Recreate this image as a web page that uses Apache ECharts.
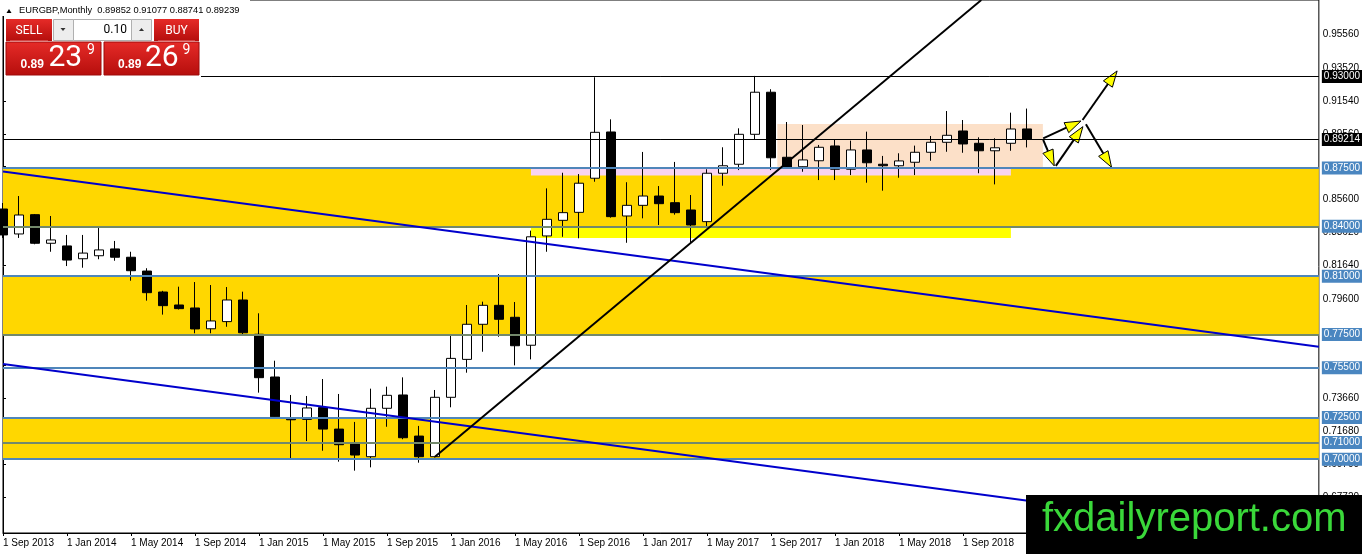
<!DOCTYPE html>
<html><head><meta charset="utf-8">
<script src="https://cdn.jsdelivr.net/npm/echarts@6/dist/echarts.min.js"></script>
<style>html,body{margin:0;padding:0;background:#fff;}#c{width:1362px;height:554px;}</style>
</head><body><div id="c"></div>
<script>
// ---- data ----
const months = ['Sep 2013','Oct 2013','Nov 2013','Dec 2013','Jan 2014','Feb 2014','Mar 2014','Apr 2014','May 2014','Jun 2014','Jul 2014','Aug 2014','Sep 2014','Oct 2014','Nov 2014','Dec 2014','Jan 2015','Feb 2015','Mar 2015','Apr 2015','May 2015','Jun 2015','Jul 2015','Aug 2015','Sep 2015','Oct 2015','Nov 2015','Dec 2015','Jan 2016','Feb 2016','Mar 2016','Apr 2016','May 2016','Jun 2016','Jul 2016','Aug 2016','Sep 2016','Oct 2016','Nov 2016','Dec 2016','Jan 2017','Feb 2017','Mar 2017','Apr 2017','May 2017','Jun 2017','Jul 2017','Aug 2017','Sep 2017','Oct 2017','Nov 2017','Dec 2017','Jan 2018','Feb 2018','Mar 2018','Apr 2018','May 2018','Jun 2018','Jul 2018','Aug 2018','Sep 2018','Oct 2018','Nov 2018','Dec 2018','Jan 2019'];
const open = [.8504,.8354,.8470,.8298,.8282,.8205,.8223,.8264,.8214,.8131,
  .8005,.7927,.7909,.7784,.7827,.7957,.7751,.7494,.7249,.7239,
  .7310,.7181,.7091,.7015,.7306,.7386,.7139,.7015,.7372,.7600,
  .7811,.7925,.7853,.7685,.8342,.8436,.8484,.8689,.8967,.8462,
  .8526,.8582,.8542,.8498,.8428,.8719,.8773,.8953,.9206,.8815,
  .8758,.8794,.8883,.8743,.8859,.8773,.8764,.8785,.8845,.8905,
  .8973,.8899,.8854,.8899,.89852];
const high = [.8540,.8582,.8474,.8462,.8348,.8348,.8398,.8312,.8247,.8148,
  .8012,.8037,.8065,.8047,.8035,.8007,.7877,.7592,.7386,.7380,
  .7482,.7392,.7224,.7424,.7436,.7492,.7200,.7416,.7747,.7927,
  .7947,.8113,.7945,.8374,.8628,.8722,.8714,.9296,.9043,.8665,
  .8847,.8642,.8787,.8588,.8743,.8875,.8989,.9304,.9224,.9027,
  .9009,.8889,.8923,.8915,.8969,.8823,.8839,.8885,.8943,.9093,
  .9039,.8935,.8929,.9083,.91077];
const low = [.8330,.8330,.8292,.8247,.8161,.8151,.8202,.8193,.8073,.7953,
  .7869,.7900,.7757,.7757,.7796,.7752,.7400,.7243,.7005,.7109,
  .7051,.6985,.6931,.6951,.7195,.7120,.6979,.7010,.7312,.7520,
  .7646,.7736,.7564,.7600,.8247,.8337,.8328,.8668,.8452,.8301,
  .8448,.8408,.8470,.8301,.8398,.8644,.8738,.8919,.8738,.8750,
  .8728,.8678,.8678,.8708,.8662,.8614,.8692,.8708,.8794,.8848,
  .8842,.8719,.8652,.8854,.88741];
const close = [.8348,.8468,.8298,.8318,.8197,.8239,.8258,.8214,.8133,.8001,
  .7923,.7905,.7783,.7831,.7957,.7760,.7490,.7255,.7237,.7308,
  .7181,.7087,.7025,.7306,.7384,.7129,.7015,.7372,.7606,.7811,
  .7925,.7841,.7682,.8337,.8442,.8482,.8659,.8965,.8458,.8526,
  .8582,.8536,.8482,.8408,.8719,.8764,.8953,.9206,.8812,.8755,
  .8799,.8875,.8743,.8859,.8782,.8764,.8793,.8845,.8905,.8947,
  .8895,.8854,.8872,.8985,.89239];
const xTickLabels = ['1 Sep 2013','1 Jan 2014','1 May 2014','1 Sep 2014','1 Jan 2015','1 May 2015','1 Sep 2015','1 Jan 2016','1 May 2016','1 Sep 2016','1 Jan 2017','1 May 2017','1 Sep 2017','1 Jan 2018','1 May 2018','1 Sep 2018','1 Jan 2019','1 May 2019','1 Sep 2019','1 Jan 2020','1 May 2020'];
const yTickValues = [0.9556,0.9352,0.9154,0.8956,0.8758,0.856,0.8362,0.8164,0.796,0.7762,0.7564,0.7366,0.7168,0.697,0.6772];
const yTickLabels = [0.9556,0.9352,0.9154,0.8956,0.856,0.8362,0.8164,0.796,0.7366,0.7168,0.697,0.6772];
const blueLevels = [0.875,0.84,0.81,0.775,0.755,0.725,0.71,0.70];
const oliveLevels = [0.84,0.775,0.71];
const blackLevels = [0.93,0.89214];
const bandRanges = [[0.875,0.84],[0.81,0.775],[0.725,0.70]];
const zoneX = [[33,63],[33,63],[48.4,65]];
const zoneY = [[0.8705,0.875],[0.8330,0.840],[0.875,0.9015]];
const trendLines = [[0,0.8730,82.25,0.7676],[0,0.7572,78,0.6571],[27,0.7015,61.15,0.9760]];
const arrows = [
  [65.02,0.8929,67.38,0.9033],
  [67.48,0.9039,69.64,0.9334],
  [65.02,0.8919,65.71,0.8763],
  [65.81,0.8763,67.50,0.8999],
  [67.69,0.9013,69.29,0.8755]
];
const symbolName = 'EURGBP,Monthly';
const sellPrice = ['0.89','23','9'];
const buyPrice = ['0.89','26','9'];
const lotSize = '0.10';

// ---- chart ----
const chart = echarts.init(document.getElementById('c'), null, {renderer:'canvas'});
const candles = months.map((m,i)=>[i, open[i], close[i], low[i], high[i]]);
const last = months.length-1;
const F = '"Liberation Sans", Arial, sans-serif';
const GOLD = '#FFD700', STEEL = '#4F86BA', OLIVE = '#73896B', LBL = '#4A86C0';

const zoneColors = ['#F8D4F0','#FFFF00','#FCE0C8'];
const markAreaData = bandRanges.map(r=>[{yAxis:r[0], itemStyle:{color:GOLD}},{yAxis:r[1]}])
  .concat(zoneX.map((zx,i)=>[{coord:[zx[0],zoneY[i][0]], itemStyle:{color:zoneColors[i]}},{coord:[zx[1],zoneY[i][1]]}]));

const lvlLabel = (bg)=>({show:true, position:'end', distance:3, color:'#fff', backgroundColor:bg,
  fontSize:10, fontFamily:F, padding:[2,2,1,2], lineHeight:10,
  formatter:(p)=>Number(p.value).toFixed(5)});
const markLineData = [];
blueLevels.forEach(v=>{
  markLineData.push({yAxis:v, lineStyle:{color: oliveLevels.includes(v)?OLIVE:STEEL, width:2, type:'solid'}, label:lvlLabel(LBL)});
});
blackLevels.forEach(v=>{
  markLineData.push({yAxis:v, lineStyle:{color:'#000', width:1, type:'solid'}, label:lvlLabel('#000')});
});
trendLines.forEach((t,i)=>{
  markLineData.push([{coord:[t[0],t[1]], lineStyle:{color: i<2?'#0000CC':'#000', width:2, type:'solid'}, label:{show:false}},{coord:[t[2],t[3]]}]);
});

const redGrad = ()=>new echarts.graphic.LinearGradient(0,0,0,1,[{offset:0,color:'#E62B28'},{offset:1,color:'#B50E0C'}]);
const titleText = symbolName + '  ' + [open[last],high[last],low[last],close[last]].map(v=>v.toFixed(5)).join(' ');

const graphic = [
  {type:'rect', shape:{x:0,y:0,width:250,height:16}, style:{fill:'#fff'}, z:100},
  {type:'polygon', shape:{points:[[6.5,13],[9,9],[11.5,13]]}, style:{fill:'#000'}, z:101},
  {type:'text', x:19, y:10.5, style:{text:titleText, font:'9.3px '+F, fill:'#000', verticalAlign:'middle'}, z:101},
  {type:'rect', shape:{x:4,y:17,width:197,height:61}, style:{fill:'#fff'}, z:100},
  // SELL
  {type:'rect', shape:{x:6,y:19,width:46,height:22}, style:{fill:redGrad()}, z:101},
  {type:'line', shape:{x1:10,y1:41,x2:48,y2:41}, style:{stroke:'#F08080', lineWidth:1}, z:102},
  {type:'text', x:29, y:30.5, style:{text:'SELL', font:'12px Roboto', fill:'#fff', align:'center', verticalAlign:'middle'}, z:102},
  // spinner
  {type:'rect', shape:{x:53.5,y:19.5,width:20,height:21}, style:{fill:'#EDEDED', stroke:'#B0B0B0', lineWidth:1}, z:101},
  {type:'polygon', shape:{points:[[60.5,28],[65.5,28],[63,31]]}, style:{fill:'#333'}, z:102},
  {type:'rect', shape:{x:73.5,y:19.5,width:58,height:21}, style:{fill:'#fff', stroke:'#B0B0B0', lineWidth:1}, z:101},
  {type:'text', x:127, y:30, style:{text:lotSize, font:'12px Roboto', fill:'#000', align:'right', verticalAlign:'middle'}, z:102},
  {type:'rect', shape:{x:131.5,y:19.5,width:20,height:21}, style:{fill:'#EDEDED', stroke:'#B0B0B0', lineWidth:1}, z:101},
  {type:'polygon', shape:{points:[[139,31],[144,31],[141.5,28]]}, style:{fill:'#333'}, z:102},
  // BUY
  {type:'rect', shape:{x:154,y:19,width:45,height:22}, style:{fill:redGrad()}, z:101},
  {type:'line', shape:{x1:158,y1:41,x2:195,y2:41}, style:{stroke:'#F08080', lineWidth:1}, z:102},
  {type:'text', x:176.5, y:30.5, style:{text:'BUY', font:'12px Roboto', fill:'#fff', align:'center', verticalAlign:'middle'}, z:102},
  // price boxes
  {type:'rect', shape:{x:6,y:42,width:95,height:33}, style:{fill:redGrad(), stroke:'#9E0A0A', lineWidth:1}, z:101},
  {type:'rect', shape:{x:104,y:42,width:95,height:33}, style:{fill:redGrad(), stroke:'#9E0A0A', lineWidth:1}, z:101},
  {type:'text', x:20.5, y:65, style:{text:sellPrice[0], font:'bold 12px '+F, fill:'#fff', verticalAlign:'middle'}, z:102},
  {type:'text', x:48.5, y:58.5, style:{text:sellPrice[1], font:'30px Roboto', fill:'#fff', verticalAlign:'middle'}, z:102},
  {type:'text', x:87, y:50.5, style:{text:sellPrice[2], font:'14px Roboto', fill:'#fff', verticalAlign:'middle'}, z:102},
  {type:'text', x:118, y:65, style:{text:buyPrice[0], font:'bold 12px '+F, fill:'#fff', verticalAlign:'middle'}, z:102},
  {type:'text', x:145, y:58.5, style:{text:buyPrice[1], font:'30px Roboto', fill:'#fff', verticalAlign:'middle'}, z:102},
  {type:'text', x:182.5, y:50.5, style:{text:buyPrice[2], font:'14px Roboto', fill:'#fff', verticalAlign:'middle'}, z:102},
  // watermark
  {type:'rect', shape:{x:1026,y:495,width:336,height:59}, style:{fill:'#000'}, z:100},
  {type:'text', x:1042, y:519.5, style:{text:'fxdailyreport.com', font:'40px '+F, fill:'#3AD83A', verticalAlign:'middle'}, z:101}
];

const option = {
  animation:false,
  backgroundColor:'#fff',
  grid:{left:3, right:43, top:0, bottom:21, show:true, borderColor:'#000', borderWidth:1},
  xAxis:{type:'value', min:0, max:82.25, interval:4,
    axisLine:{show:true, lineStyle:{color:'#000', width:1}},
    axisTick:{show:true, length:3, lineStyle:{color:'#000'}},
    splitLine:{show:false},
    axisLabel:{show:true, showMaxLabel:false, align:'left', margin:5, fontSize:10, fontFamily:F, color:'#000',
      formatter:(v)=>xTickLabels[Math.round(v/4)]||''}},
  yAxis:{type:'value', position:'right', min:0.65563, max:0.97604, scale:true,
    axisLine:{show:true, lineStyle:{color:'#000', width:1}},
    axisTick:{show:true, length:3, customValues:yTickValues, lineStyle:{color:'#000'}},
    splitLine:{show:false},
    axisLabel:{show:true, customValues:yTickLabels, margin:4, fontSize:10, fontFamily:F, color:'#000',
      formatter:(v)=>Number(v).toFixed(5)}},
  series:[
    {type:'line', data:[], z:1, silent:true, markArea:{silent:true, precision:5, data:markAreaData}},
    {type:'candlestick', z:2, silent:true, barWidth:10, data:candles, encode:{x:0, y:[1,2,3,4]},
      itemStyle:{color:'#fff', color0:'#000', borderColor:'#000', borderColor0:'#000', borderWidth:1}},
    {type:'line', data:[], z:3, silent:true, markLine:{silent:true, precision:5, symbol:['none','none'], animation:false, data:markLineData}},
    {type:'custom', z:4, silent:true, data:arrows, encode:{x:[0,2], y:[1,3]},
      renderItem:(params, api)=>{
        const p0 = api.coord([api.value(0), api.value(1)]);
        const p1 = api.coord([api.value(2), api.value(3)]);
        const dx = p1[0]-p0[0], dy = p1[1]-p0[1];
        const len = Math.sqrt(dx*dx+dy*dy)||1;
        const ux = dx/len, uy = dy/len, L = 16, W = 5.5;
        const bx = p1[0]-ux*L, by = p1[1]-uy*L;
        return {type:'group', children:[
          {type:'line', shape:{x1:p0[0], y1:p0[1], x2:bx, y2:by}, style:{stroke:'#000', lineWidth:2}},
          {type:'polygon', shape:{points:[[p1[0],p1[1]],[bx-uy*W, by+ux*W],[bx+uy*W, by-ux*W]]},
            style:{fill:'#FFFF00', stroke:'#000', lineWidth:1}}
        ]};
      }}
  ],
  graphic: graphic
};
chart.setOption(option);
</script></body></html>
